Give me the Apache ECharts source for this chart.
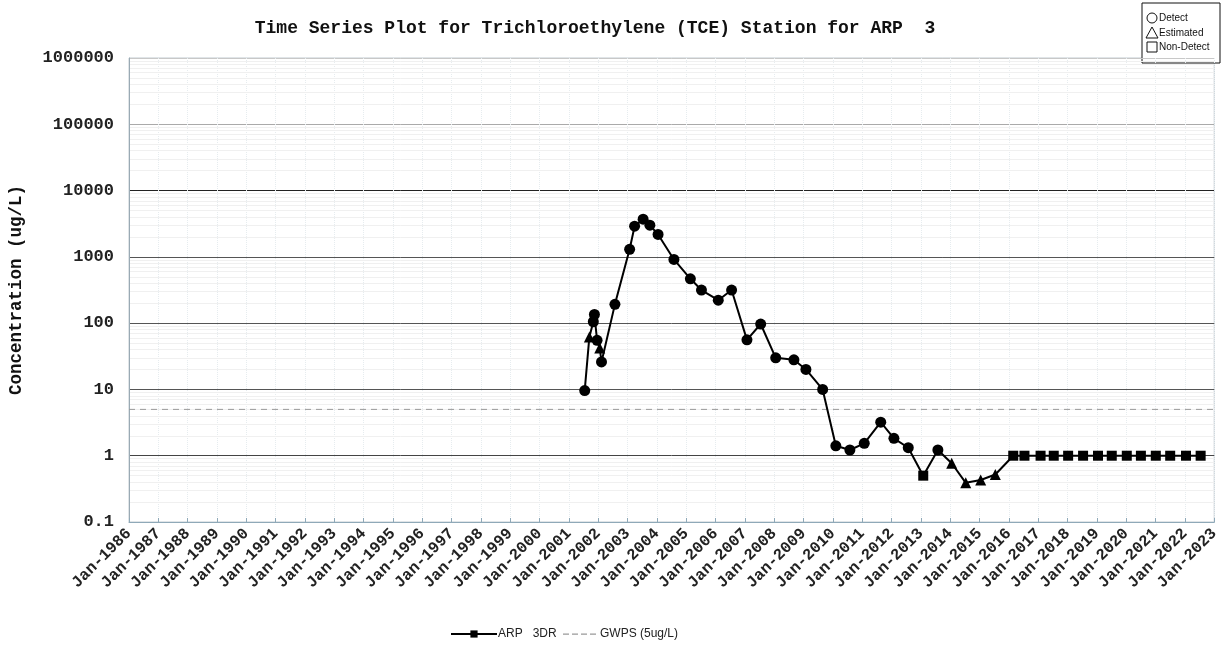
<!DOCTYPE html>
<html>
<head>
<meta charset="UTF-8">
<title>TCE time series</title>
<style>html,body{margin:0;padding:0;background:#fff;}#chart{width:1222px;height:645px;}</style>
</head>
<body>
<div id="chart"></div>
<script src="https://cdn.jsdelivr.net/npm/echarts@6/dist/echarts.min.js"></script>
<script>
// sample dates
var sampleDates = [
  '2001-07-16','2001-09-12','2001-10-31','2001-11-14','2001-12-17','2002-01-19','2002-02-10','2002-07-27',
  '2003-01-26','2003-03-29','2003-07-13','2003-10-05','2004-01-15','2004-07-31','2005-02-21','2005-07-09',
  '2006-02-03','2006-07-19','2007-01-26','2007-07-16','2008-01-19','2008-09-02','2009-01-30','2009-08-26',
  '2010-02-06','2010-07-31','2011-01-26','2011-08-19','2012-01-30','2012-07-27','2013-01-30','2013-07-31',
  '2014-01-19','2014-07-13','2015-01-15','2015-07-16','2016-02-24','2016-07-13','2017-01-30','2017-07-13',
  '2018-01-08','2018-07-13','2019-01-15','2019-07-05','2020-01-08','2020-07-02','2021-01-04','2021-07-02',
  '2022-01-15','2022-07-16'
];
// concentration ug/L
var tceValues = [
  9.6, 62, 105, 135, 55, 42, 26, 192,
  1300, 2900, 3700, 3000, 2180, 915, 467, 316,
  222, 316, 56, 97, 30, 28, 20, 10,
  1.41, 1.22, 1.54, 3.2, 1.83, 1.32, 0.5, 1.22,
  0.77, 0.39, 0.43, 0.52, 1, 1, 1, 1,
  1, 1, 1, 1, 1, 1, 1, 1,
  1, 1
];
// D = detect, E = estimated, N = non-detect
var sampleFlags = [
  'D','E','D','D','D','E','D','D',
  'D','D','D','D','D','D','D','D',
  'D','D','D','D','D','D','D','D',
  'D','D','D','D','D','D','N','D',
  'E','E','E','E','N','N','N','N',
  'N','N','N','N','N','N','N','N',
  'N','N'
];
var gwpsLimit = 5;
var yearRange = [1986, 2023];

// date string -> decimal year
function toYear(s) {
  var d = Date.parse(s + 'T00:00:00Z');
  var y = new Date(d).getUTCFullYear();
  var a = Date.UTC(y, 0, 1), b = Date.UTC(y + 1, 0, 1);
  return y + (d - a) / (b - a);
}

var symbolFor = {D: 'circle', E: 'triangle', N: 'rect'};
var sizeFor = {D: 11, E: 11, N: 10};

var seriesData = [];
for (var i = 0; i < sampleDates.length; i++) {
  var f = sampleFlags[i];
  seriesData.push({
    value: [toYear(sampleDates[i]), tceValues[i]],
    symbol: symbolFor[f],
    symbolSize: sizeFor[f]
  });
}

// faint minor grid lines 2..9 in each decade
var minorLines = [];
for (var k = -1; k <= 5; k++) {
  for (var m = 2; m <= 9; m++) {
    minorLines.push({yAxis: m * Math.pow(10, k)});
  }
}

var chart = echarts.init(document.getElementById('chart'));
var mono = '"Liberation Mono", "DejaVu Sans Mono", monospace';
var sans = '"Liberation Sans", Arial, sans-serif';
var dashIcon = 'path://M0,0L0.01,0L0.01,0.01Z M0,4.5h6v1.2h-6Z M9,4.5h6v1.2h-6Z M18,4.5h6v1.2h-6Z M27,4.5h6v1.2h-6Z M35.99,9.99L36,9.99L36,10Z';

var option = {
  backgroundColor: '#fff',
  animation: false,
  title: {
    text: 'Time Series Plot for Trichloroethylene (TCE) Station for ARP  3',
    left: 590,
    textAlign: 'center',
    top: 14,
    textStyle: {fontFamily: mono, fontSize: 18, fontWeight: 'bold', color: '#111'}
  },
  legend: [
    {
      left: 450, top: 628, itemWidth: 46, itemHeight: 9, padding: 0,
      textStyle: {fontFamily: sans, fontSize: 12, color: '#222', padding: [0, 0, 0, -4]},
      data: ['ARP   3DR']
    },
    {
      left: 563, top: 628, itemWidth: 36, itemHeight: 10, padding: 0,
      textStyle: {fontFamily: sans, fontSize: 12, color: '#222', padding: [0, 0, 0, -4]},
      data: [{name: 'GWPS (5ug/L)', icon: dashIcon, itemStyle: {color: '#999'}}]
    }
  ],
  grid: {
    left: 127, right: 5, top: 58, bottom: 123,
    show: true, borderColor: '#c0cad0', borderWidth: 1
  },
  xAxis: {
    type: 'value',
    min: yearRange[0],
    max: yearRange[1],
    interval: 1,
    axisLine: {lineStyle: {color: '#8fa9b8', width: 1}},
    axisTick: {inside: true, length: 4, lineStyle: {color: '#8fa9b8'}},
    splitLine: {show: true, lineStyle: {color: '#e6ecef', type: 'dotted'}},
    axisLabel: {
      rotate: 45,
      margin: 9,
      fontFamily: mono,
      fontSize: 16,
      fontWeight: 'bold',
      color: '#222',
      formatter: function (v) { return 'Jan-' + v; }
    }
  },
  yAxis: {
    type: 'log',
    logBase: 10,
    min: 0.1,
    max: 1000000,
    splitNumber: 7,
    name: 'Concentration (ug/L)',
    nameLocation: 'middle',
    nameGap: 103,
    nameTextStyle: {fontFamily: mono, fontSize: 17.5, fontWeight: 'bold', color: '#111'},
    axisLine: {show: true, lineStyle: {color: '#9aaab4'}},
    axisTick: {show: false},
    splitLine: {show: true, lineStyle: {color: ['#9aaab4', '#444', '#555', '#555', '#555', '#222', '#aaa', '#c8c8c8'], width: 1}},
    axisLabel: {
      margin: 15,
      fontFamily: mono,
      fontSize: 17,
      fontWeight: 'bold',
      color: '#222',
      formatter: function (v) { return v < 1 ? String(v) : String(Math.round(v)); }
    }
  },
  series: [
    {
      name: 'minor grid',
      type: 'line',
      z: 0,
      symbol: 'none',
      silent: true,
      data: [],
      markLine: {
        z: 0,
        silent: true,
        symbol: 'none',
        label: {show: false},
        lineStyle: {color: '#f0f0f0', width: 1, type: 'solid'},
        data: minorLines
      }
    },
    {
      name: 'GWPS (5ug/L)',
      type: 'line',
      z: 2,
      symbol: 'none',
      data: [[yearRange[0], gwpsLimit], [yearRange[1], gwpsLimit]],
      itemStyle: {color: '#999'},
      lineStyle: {color: '#999', width: 1, type: [6, 5]}
    },
    {
      name: 'ARP   3DR',
      type: 'line',
      z: 5,
      symbol: 'rect',
      symbolSize: 10,
      showAllSymbol: true,
      data: seriesData,
      itemStyle: {color: '#000'},
      lineStyle: {color: '#000', width: 2}
    }
  ],
  graphic: [
    {type: 'rect', shape: {x: 1142, y: 3, width: 78, height: 60}, style: {fill: '#fff', stroke: '#111', lineWidth: 1}},
    {type: 'circle', shape: {cx: 1152, cy: 18, r: 5}, style: {fill: 'none', stroke: '#111', lineWidth: 1}},
    {type: 'polygon', shape: {points: [[1152, 27], [1146, 38], [1158, 38]]}, style: {fill: 'none', stroke: '#111', lineWidth: 1}},
    {type: 'rect', shape: {x: 1147, y: 42, width: 10, height: 10}, style: {fill: 'none', stroke: '#111', lineWidth: 1}},
    {type: 'text', x: 1159, y: 18, style: {text: 'Detect', font: '10px ' + sans, fill: '#111', textVerticalAlign: 'middle'}},
    {type: 'text', x: 1159, y: 33, style: {text: 'Estimated', font: '10px ' + sans, fill: '#111', textVerticalAlign: 'middle'}},
    {type: 'text', x: 1159, y: 47, style: {text: 'Non-Detect', font: '10px ' + sans, fill: '#111', textVerticalAlign: 'middle'}}
  ]
};
chart.setOption(option);
</script>
</body>
</html>
